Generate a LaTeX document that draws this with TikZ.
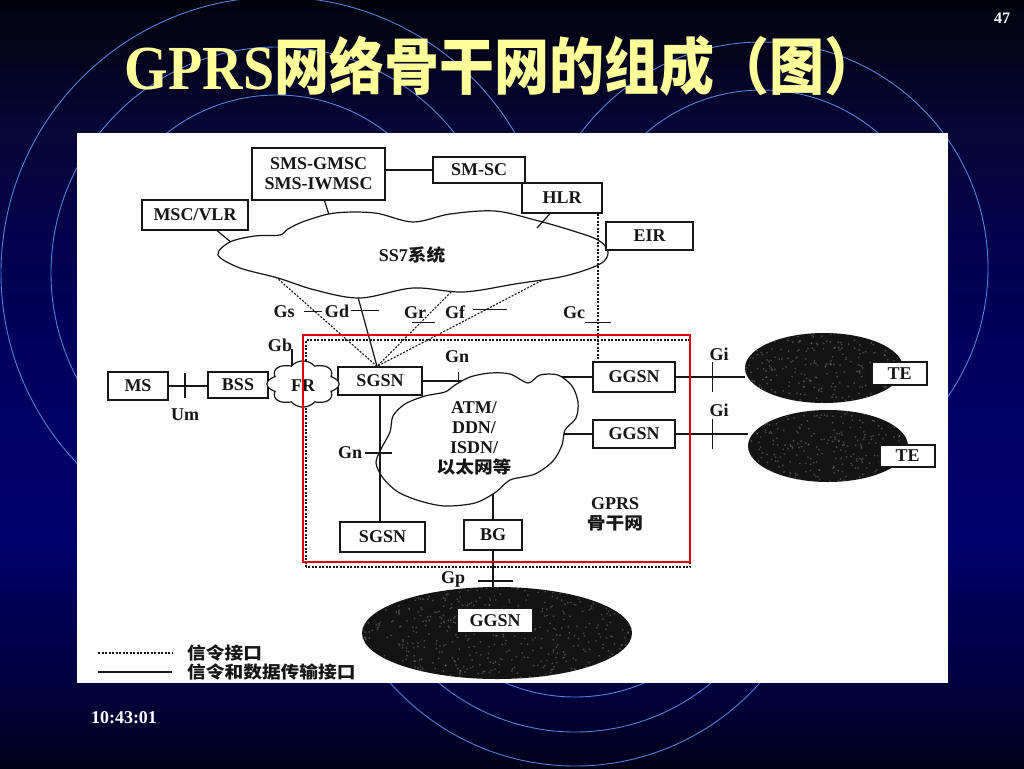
\documentclass[tikz,border=0pt]{standalone}
\usepackage{graphicx}
\usepackage{fontspec}
\setmainfont{Liberation Serif}
\newfontfamily\cjk{Noto Sans CJK SC}[FakeStretch=1.1]
\newfontfamily\cjkt{Noto Sans CJK SC}
\usetikzlibrary{shapes.geometric,calc}
\definecolor{bgtop}{RGB}{2,2,12}
\definecolor{bgupper}{RGB}{6,6,55}
\definecolor{bgmidu}{RGB}{0,0,90}
\definecolor{bgmid}{RGB}{0,0,108}
\definecolor{bglow}{RGB}{0,0,60}
\definecolor{bgbot}{RGB}{0,0,25}
\definecolor{arcc}{RGB}{80,130,220}
\definecolor{titley}{RGB}{255,255,153}
\definecolor{ink}{RGB}{22,22,22}
\definecolor{blobc}{RGB}{20,20,20}
\definecolor{speckc}{RGB}{125,125,125}
\definecolor{redbox}{RGB}{225,0,0}
\definecolor{paper}{RGB}{253,253,253}
\pgfdeclareverticalshading{slidebg}{100bp}{color(0bp)=(bgbot); color(25bp)=(bgbot); color(30bp)=(bglow); color(40bp)=(bgmid); color(55bp)=(bgmidu); color(66.5bp)=(bgupper); color(75bp)=(bgtop); color(100bp)=(bgtop)}
\newcommand\diaglbl{\fontsize{18}{20}\selectfont\bfseries}
\newcommand\diagcjk{\cjk\fontsize{17}{20}\selectfont\bfseries}
\begin{document}
\begin{tikzpicture}[x=1pt,y=-1pt,
  box/.style={draw=ink, line width=1.2pt, fill=white, inner sep=0pt, font=\diaglbl, text=ink, align=center},
  lbl/.style={font=\diaglbl, text=ink, inner sep=0pt},
  cjklbl/.style={font=\diagcjk, text=ink, inner sep=0pt},
  wire/.style={draw=ink, line width=1.2pt},
  sig/.style={draw=ink, line width=1.1pt, dash pattern=on 2pt off 1.5pt},
  ring/.style={draw=arcc, line width=0.9pt},
  slidetxt/.style={text=white, font=\fontsize{18}{20}\selectfont\bfseries, inner sep=0pt},
  blob/.style n args={3}{ellipse, fill=blobc, draw=none, inner sep=0pt, minimum width=#1, minimum height=#2,
    path picture={\foreach \k in {1,...,#3}{\fill[speckc, opacity=0.5] ([shift={({#1*(rnd-0.5)},{#2*(rnd-0.5)})}]path picture bounding box.center) circle (1);}}}
]
\pgfmathsetseed{7}
\useasboundingbox (0,0) rectangle (1024,768);
\clip (0,0) rectangle (1024,768);
% slide background
\shade[shading=slidebg] (0,0) rectangle (1024,768);
\foreach \r in {178,226,276} \draw[ring] (277,273) circle[radius=\r];
\foreach \r in {130,178,226} \draw[ring] (762,268) circle[radius=\r];
\foreach \r in {178,213,247} \draw[ring] (575,519) circle[radius=\r];
\fill[paper] (77,133) rectangle (948,683);
% title and slide texts
\node[inner sep=0pt, text=titley] (title) at (502,66) {\scalebox{1}[1.12]{\fontsize{56}{60}\selectfont\bfseries GPRS{\cjkt\fontsize{55}{60}\selectfont 网络骨干网的组成（图）}}};
\node[slidetxt, font=\fontsize{16}{18}\selectfont\bfseries] (pg) at (1002,18) {47};
\node[slidetxt] (clock) at (124,718) {10:43:01};

% ---------- boxes (upper) ----------
\node[box, minimum width=133, minimum height=52] (smsg) at (318.5,174) {SMS-GMSC\\SMS-IWMSC};
\node[box, minimum width=92, minimum height=26] (smsc) at (479,170) {SM-SC};
\node[box, minimum width=106, minimum height=30] (msc) at (195,215) {MSC/VLR};

% coordinates on clouds
\coordinate (ss7n) at (330,218);
\coordinate (ss7w) at (238,248);
\coordinate (ss7ne) at (537,228);
\coordinate (gsA) at (268,270);
\coordinate (gdA) at (356,290);
\coordinate (grA) at (456,287);
\coordinate (gfA) at (560,271);
\coordinate (frn) at (292,366);
\coordinate (gbtop) at (292,349);
\coordinate (atmnw) at (466,381);
\coordinate (atmne) at (560,377);
\coordinate (atme) at (560,434);
\coordinate (atms) at (493,486);
\coordinate (gcx) at (598,0);

% upper connectors
\draw[wire] (smsc.west) -- (smsc.west -| smsg.east);
\draw[wire] ([xshift=6pt]smsg.south) -- (ss7n);
\draw[wire] ([xshift=22pt]msc.south) -- (ss7w);

% ---------- lower boxes ----------
\node[box, minimum width=60, minimum height=28] (ms) at (138,386) {MS};
\node[box, minimum width=60, minimum height=26] (bss) at (238,385) {BSS};
\node[box, minimum width=84, minimum height=28] (sgsn1) at (380,381) {SGSN};
\node[box, minimum width=82, minimum height=30] (ggsn1) at (634,377) {GGSN};
\node[box, minimum width=82, minimum height=28] (ggsn2) at (634,434) {GGSN};
\node[box, minimum width=85, minimum height=30] (sgsn2) at (382.5,537) {SGSN};
\node[box, minimum width=58, minimum height=30] (bg) at (493,535) {BG};
\coordinate (sgtop) at ([xshift=-3pt]sgsn1.north);

% dotted backbone boundary
\draw[sig] (306,567) -- (306,340) -- (690,340) -- (690,567) -- cycle;

% SS7 -> SGSN interfaces
\draw[sig] (gsA) -- (sgtop) coordinate[pos=0.433] (gst);
\draw[wire] (gdA) -- (sgtop) coordinate[pos=0.273] (gdt);
\draw[sig] (grA) -- (sgtop) coordinate[pos=0.45] (grt);
\draw[sig] (gfA) -- (sgtop) coordinate[pos=0.406] (gft);
\draw[wire] ([xshift=-11pt]gst) -- ([xshift=7pt]gst);
\draw[wire] ([xshift=-11pt]gdt) -- ([xshift=17pt]gdt);
\draw[wire] ([xshift=-8pt]grt) -- ([xshift=15pt]grt);
\draw[wire] ([xshift=-13pt]gft) -- ([xshift=21pt]gft);

% SS7 cloud
\draw[wire, fill=white] plot[smooth cycle, tension=0.55] coordinates {
 (218,255) (230,242) (255,236) (280,235) (288,229) (305,221) (335,213) (375,213) (413,222)
 (450,214) (495,211) (535,220) (570,230) (598,240) (608,252) (600,264) (565,276) (515,284)
 (463,292) (413,288) (360,298) (315,290) (278,278) (240,268)};
\node[lbl] (ss7) at (412,255) {SS7{\diagcjk 系统}};
\node[box, minimum width=80, minimum height=30] (hlr) at (562,198) {HLR};
\node[box, minimum width=87, minimum height=28] (eir) at (649.5,236) {EIR};
\draw[wire] ([xshift=-12pt]hlr.south) -- (ss7ne);
\draw[sig] (hlr.south -| gcx) -- (ggsn1.north -| gcx) coordinate[pos=0.735] (gct);
\draw[wire] ([xshift=-13pt]gct) -- ([xshift=13pt]gct);

% interface labels (upper)
\node[lbl] (gs) at (284,312) {Gs};
\node[lbl] (gd) at (337,311) {Gd};
\node[lbl] (gr) at (415,313) {Gr};
\node[lbl] (gf) at (455,312) {Gf};
\node[lbl] (gc) at (574,313) {Gc};

% MS - BSS - FR - SGSN
\draw[wire] (ms.east) -- (ms.east -| bss.west) coordinate[pos=0.425] (umt);
\draw[wire] ([yshift=-12pt]umt) -- ([yshift=13pt]umt);
\node[lbl] (um) at (185,415) {Um};
\draw[wire] (gbtop) -- (frn);
\draw[wire, fill=white] plot[variable=\t, domain=0:360, samples=145]
  ({303+36*(0.84+0.16*abs(cos(4*\t)))*cos(\t)}, {384+23*(0.84+0.16*abs(cos(4*\t)))*sin(\t)}) -- cycle;
\node[lbl] (fr) at (303,386) {FR};
\node[lbl] (gb) at (280,345) {Gb};

% backbone connectors to the ATM cloud
\draw[wire] (sgsn1.east) -- (atmnw) coordinate[pos=0.818] (gnt);
\draw[wire] ([yshift=-11pt]gnt) -- ([yshift=9pt]gnt);
\node[lbl] (gn1) at (457,357) {Gn};
\draw[wire] (atmne) -- (atmne -| ggsn1.west);
\draw[wire] (atme) -- (atme -| ggsn2.west);
\draw[wire] (atms) -- (bg.north);

% ATM cloud
\draw[wire, fill=white] plot[smooth cycle, tension=0.5] coordinates {
 (455,385) (470,377) (490,373) (510,374) (528,383) (540,375) (558,375) (572,386) (578,402)
 (576,418) (565,430) (562,445) (553,461) (535,474) (510,480) (496,492) (475,503) (445,506)
 (420,501) (398,492) (383,478) (376,463) (381,449) (390,432) (393,416) (405,404) (425,396) (445,392)};
\node[lbl, align=center] (atmtxt) at (474,438) {ATM/\\DDN/\\ISDN/\\{\diagcjk 以太网等}};

% SGSN - SGSN
\draw[wire] (sgsn1.south) -- (sgsn1.south |- sgsn2.north) coordinate[pos=0.457] (gn2t);
\draw[wire] ([xshift=-15pt]gn2t) -- ([xshift=12pt]gn2t);
\node[lbl] (gn2) at (350,453) {Gn};

\node[lbl, align=center] (bbtxt) at (615,514) {GPRS\\{\diagcjk 骨干网}};

% external networks
\node[blob={158}{70}{260}] (e1) at (824,368) {};
\node[blob={160}{72}{260}] (e2) at (828,446) {};
\draw[wire] (ggsn1.east) -- (ggsn1.east -| e1.west) coordinate[pos=0.529] (gi1t);
\draw[wire] ([yshift=-15pt]gi1t) -- ([yshift=15pt]gi1t);
\draw[wire] (ggsn2.east) -- (ggsn2.east -| e2.west) coordinate[pos=0.507] (gi2t);
\draw[wire] ([yshift=-15pt]gi2t) -- ([yshift=15pt]gi2t);
\node[lbl] (gi1) at (719,354) {Gi};
\node[lbl] (gi2) at (719,410) {Gi};
\node[box, minimum width=55, minimum height=23] (te1) at (899.5,373.5) {TE};
\node[box, minimum width=55, minimum height=22] (te2) at (907.5,456) {TE};

% BG - other PLMN
\node[blob={270}{92}{520}] (e3) at (497,633) {};
\node[box, minimum width=76, minimum height=25] (ggsn3) at (495,620.5) {GGSN};
\draw[wire] (bg.south) -- (bg.south |- ggsn3.north) coordinate[pos=0.534] (gpt);
\draw[wire] ([xshift=-15pt]gpt) -- ([xshift=20pt]gpt);
\node[lbl] (gp) at (453,579) {Gp};

% legend
\coordinate (lg1a) at (98,653);
\coordinate (lg1b) at (172,653);
\coordinate (lg2a) at (98,672);
\coordinate (lg2b) at (172,672);
\draw[sig] (lg1a) -- (lg1b);
\draw[wire] (lg2a) -- (lg2b);
\node[cjklbl, anchor=west] (lgt1) at (187,653) {信令接口};
\node[cjklbl, anchor=west] (lgt2) at (187,672) {信令和数据传输接口};

% red highlight frame
\draw[redbox, line width=2.5pt] (303,335) rectangle (690,562);
\end{tikzpicture}
\end{document}
